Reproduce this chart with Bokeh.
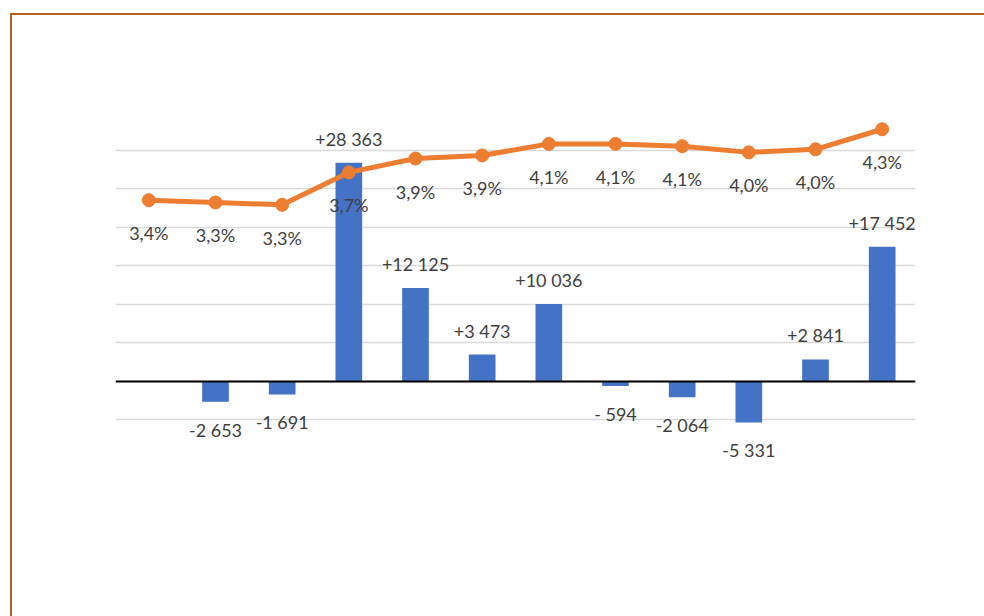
from bokeh.plotting import figure
from bokeh.models import (Range1d, ColumnDataSource, LabelSet, Label, Span, Legend,
                          LegendItem, FixedTicker, Spacer)
from bokeh.layouts import row, column
from bokeh.embed import file_html
from bokeh.resources import INLINE
from bokeh.core.properties import value
import math

months = ["leden", "únor", "březen", "duben", "květen", "červen", "červenec",
          "srpen", "září", "říjen", "listopad", "prosinec"]
change = [0, -2653, -1691, 28363, 12125, 3473, 10036, -594, -2064, -5331, 2841, 17452]
share = [3.35, 3.32, 3.29, 3.71, 3.89, 3.93, 4.08, 4.08, 4.05, 3.97, 4.01, 4.27]
left_ticks = [-10000, -5000, 0, 5000, 10000, 15000, 20000, 25000, 30000, 35000]
right_ticks = [0, 0.5, 1.0, 1.5, 2.0, 2.5, 3.0, 3.5, 4.0, 4.5]

title_text = "Vývoj nezaměstnanosti v roce 2020"
bar_name = "přírůstek/úbytek uchazečů o zaměstnání"
line_name = "podíl uchazečů o zaměstnání"

FONT = "Lato"
GRAY = "#595959"
DARK = "#404040"
BLUE = "#4472C4"
ORANGE = "#ED7D31"
BORDER = "#B5621E"


def fmt_num(v):
    s = f"{abs(v):,}".replace(",", " ")
    return ("-" if v < 0 else "") + s


def fmt_change(v):
    if v == 0:
        return ""
    s = f"{abs(v):,}".replace(",", " ")
    if v > 0:
        return "+" + s
    if abs(v) < 1000:
        return "- " + s
    return "-" + s


def fmt_share(v):
    return f"{v + 1e-9:.1f}".replace(".", ",") + "%"


src = ColumnDataSource(dict(
    m=months, change=change, share=share,
    pos=[c if c > 0 else 0 for c in change],
    neg=[c if c < 0 else 0 for c in change],
    pos_lab=[fmt_change(c) if c > 0 else "" for c in change],
    neg_lab=[fmt_change(c) if c < 0 else "" for c in change],
    share_lab=[fmt_share(s) for s in share],
    base=[left_ticks[0]] * len(months),
))
left_src = ColumnDataSource(dict(v=left_ticks, t=[fmt_num(v) for v in left_ticks],
                                 c=[months[0]] * len(left_ticks)))
right_src = ColumnDataSource(dict(v=right_ticks, t=[fmt_share(v) for v in right_ticks],
                                  c=[months[-1]] * len(right_ticks)))

p = figure(width=972, height=601, x_range=months,
           y_range=Range1d(left_ticks[0], left_ticks[-1]),
           output_backend="svg", toolbar_location=None,
           min_border_left=103, min_border_right=69,
           min_border_top=96, min_border_bottom=158)
p.outline_line_color = None
p.extra_y_ranges = {"pct": Range1d(right_ticks[0], right_ticks[-1])}
p.xaxis.visible = False
p.yaxis.visible = False

p.xgrid.grid_line_color = None
p.ygrid.ticker = FixedTicker(ticks=left_ticks)
p.ygrid.grid_line_color = "#D9D9D9"
p.ygrid.grid_line_width = 1.5

bars = p.vbar(x="m", top="change", width=0.4, source=src, fill_color=BLUE, line_color=None)
p.add_layout(Span(location=0, dimension="width", line_color="black", line_width=2))

line = p.line(x="m", y="share", source=src, y_range_name="pct", line_color=ORANGE,
              line_width=5)
dots = p.scatter(x="m", y="share", source=src, y_range_name="pct", size=13,
                 fill_color=ORANGE, line_color=ORANGE)

# tick labels (drawn as annotations through the scales)
tick_style = dict(text_font=value(FONT), text_font_size="18px", text_color=GRAY,
                  text_baseline="middle")
p.add_layout(LabelSet(x="c", y="v", text="t", source=left_src, x_offset=-53,
                      text_align="right", **tick_style))
p.add_layout(LabelSet(x="c", y="v", text="t", source=right_src, y_range_name="pct",
                      x_offset=53, text_align="left", **tick_style))
p.add_layout(LabelSet(x="m", y="base", text="m", source=src, x_offset=7, y_offset=-13,
                      angle=math.pi / 4, text_align="right", text_baseline="middle",
                      text_font=value(FONT), text_font_size="17px", text_color=GRAY))

# title
p.add_layout(Label(x=492, x_units="screen", y=left_ticks[-1], y_offset=51,
                   text=title_text, text_align="center", text_baseline="middle",
                   text_font=FONT, text_font_size="31px", text_color=GRAY))

# data labels
common = dict(source=src, text_font=value(FONT), text_font_size="18px",
              text_color=DARK, text_align="center", text_baseline="middle")
p.add_layout(LabelSet(x="m", y="pos", text="pos_lab", y_offset=24, **common))
p.add_layout(LabelSet(x="m", y="neg", text="neg_lab", y_offset=-28, **common))
p.add_layout(LabelSet(x="m", y="share", text="share_lab", y_range_name="pct",
                      y_offset=-33, **common))

legend = Legend(items=[LegendItem(label=bar_name, renderers=[bars]),
                       LegendItem(label=line_name, renderers=[line, dots])],
                orientation="horizontal", location=(-7, -140),
                label_text_font=FONT, label_text_font_size="20px",
                label_text_color=GRAY, border_line_color=None,
                background_fill_alpha=0,
                glyph_width=34, glyph_height=14, spacing=70, margin=0, padding=5,
                label_standoff=6)
p.add_layout(legend)

hline = Spacer(width=974, height=2, styles={"background-color": BORDER})
vline = Spacer(width=2, height=601, styles={"background-color": BORDER})
layout = row(Spacer(width=10, height=616),
             column(Spacer(width=974, height=13), hline, row(vline, p)))

open("out.html", "w").write(file_html(layout, INLINE))
